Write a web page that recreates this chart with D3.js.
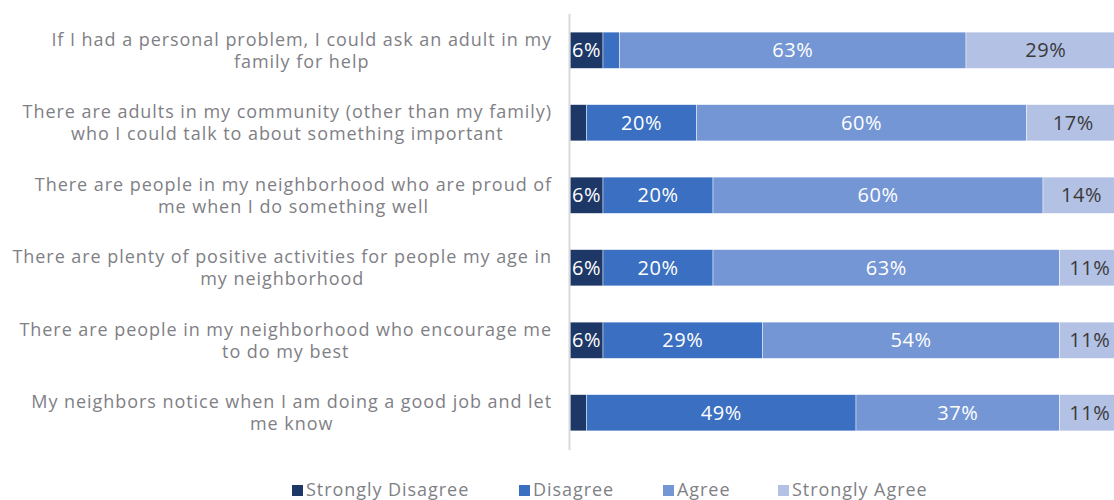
<!DOCTYPE html>
<html>
<head>
<meta charset="utf-8">
<script src="https://cdn.jsdelivr.net/npm/d3@7"></script>
<style>
  html, body { margin: 0; padding: 0; background: #fff; }
  svg { display: block; }
  text { font-family: "Open Sans", "DejaVu Sans", sans-serif; }
</style>
</head>
<body>
<svg id="chart" width="1114" height="500"></svg>
<script>
// Survey statements (line breaks mark where each label wraps)
const categories = [
  "If I had a personal problem, I could ask an adult in my\nfamily for help",
  "There are adults in my community (other than my family)\nwho I could talk to about something important",
  "There are people in my neighborhood who are proud of\nme when I do something well",
  "There are plenty of positive activities for people my age in\nmy neighborhood",
  "There are people in my neighborhood who encourage me\nto do my best",
  "My neighbors notice when I am doing a good job and let\nme know"
];

const seriesNames = ["Strongly Disagree", "Disagree", "Agree", "Strongly Agree"];

// Percent of respondents per statement, one array per response
const stronglyDisagree = [6, 3, 6, 6, 6, 3];
const disagree         = [3, 20, 20, 20, 29, 49];
const agree            = [63, 60, 60, 63, 54, 37];
const stronglyAgree    = [29, 17, 14, 11, 11, 11];

const colors = ["#1d3867", "#3a6fc1", "#7496d5", "#b2c1e4"];
const labelColors = ["#ffffff", "#ffffff", "#ffffff", "#3a3a3a"];

const rows = categories.map((c, i) => ({
  category: c,
  "Strongly Disagree": stronglyDisagree[i],
  "Disagree": disagree[i],
  "Agree": agree[i],
  "Strongly Agree": stronglyAgree[i]
}));

const svg = d3.select("#chart");

const x = d3.scaleLinear().domain([0, 100]).range([570, 1120]);
const y = d3.scaleBand()
  .domain(categories)
  .range([14, 449])
  .paddingInner(0.5)
  .paddingOuter(0.25);

const stack = d3.stack().keys(seriesNames);
const stacked = stack(rows);

const layers = svg.append("g").selectAll("g")
  .data(stacked)
  .join("g")
  .attr("fill", (d, i) => colors[i]);

layers.selectAll("rect")
  .data(d => d)
  .join("rect")
  .attr("x", d => x(d[0]))
  .attr("y", d => y(d.data.category))
  .attr("width", d => x(d[1]) - x(d[0]))
  .attr("height", y.bandwidth())
  .attr("stroke", "#ffffff")
  .attr("stroke-opacity", 0.6)
  .attr("stroke-width", 0.75);

// Value labels, shown where the segment is wide enough
stacked.forEach((layer, si) => {
  svg.append("g").selectAll("text")
    .data(layer.filter(d => d[1] - d[0] >= 5))
    .join("text")
    .attr("x", d => (x(d[0]) + x(d[1])) / 2)
    .attr("y", d => y(d.data.category) + y.bandwidth() / 2)
    .attr("dy", "0.36em")
    .attr("text-anchor", "middle")
    .attr("font-size", 20)
    .attr("letter-spacing", 0.6)
    .attr("fill", labelColors[si])
    .text(d => (d[1] - d[0]) + "%");
});

// Category axis line
svg.append("line")
  .attr("x1", 569.5).attr("x2", 569.5)
  .attr("y1", 14).attr("y2", 450)
  .attr("stroke", "#d9d9d9")
  .attr("stroke-width", 2);

// Category labels: lines centred within a block whose right edge sits by the axis
const labelRight = 552;
const lineH = 22;
const catG = svg.append("g");
categories.forEach(c => {
  const lines = c.split("\n");
  const t = catG.append("text")
    .attr("font-size", 18)
    .attr("letter-spacing", 0.95)
    .attr("fill", "#7f7f86")
    .attr("text-anchor", "middle");
  lines.forEach(ln => {
    t.append("tspan").text(ln);
  });
  const widths = [];
  t.selectAll("tspan").each(function () { widths.push(this.getComputedTextLength()); });
  const maxW = d3.max(widths);
  const cx = labelRight - maxW / 2;
  const cy = y(c) + y.bandwidth() / 2;
  t.selectAll("tspan")
    .attr("x", cx)
    .attr("y", (d, li) => cy + (li - (lines.length - 1) / 2) * lineH)
    .attr("dy", "0.36em");
});

// Legend
const legendX = [292, 519, 663, 778];
const legend = svg.append("g").selectAll("g")
  .data(seriesNames)
  .join("g")
  .attr("transform", (d, i) => `translate(${legendX[i]},490)`);
legend.append("rect")
  .attr("x", 0).attr("y", -5)
  .attr("width", 11).attr("height", 11)
  .attr("fill", (d, i) => colors[i]);
legend.append("text")
  .attr("x", 14).attr("y", 0)
  .attr("dy", "0.36em")
  .attr("font-size", 18)
  .attr("letter-spacing", 0.95)
  .attr("fill", "#7f7f86")
  .text(d => d);
</script>
</body>
</html>
